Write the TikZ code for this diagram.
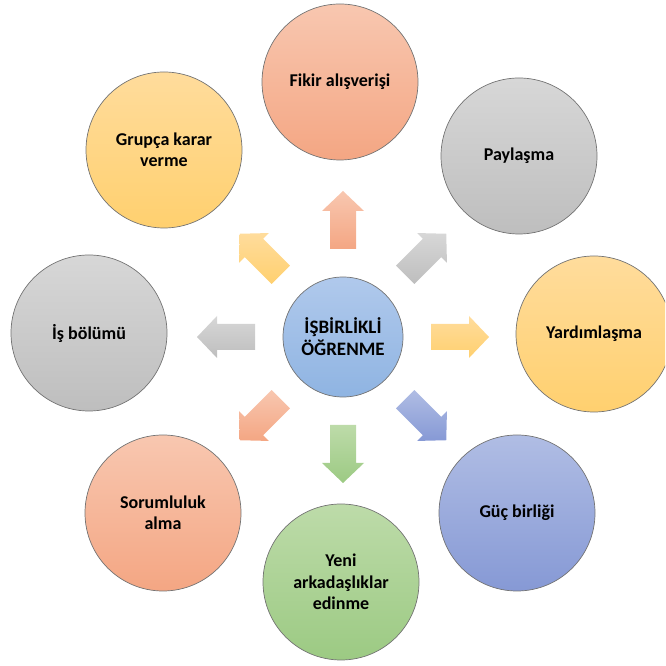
\documentclass[tikz,border=0pt]{standalone}
\usepackage{fontspec}
\setmainfont{Carlito}
\usetikzlibrary{calc}
\definecolor{Tpink}{HTML}{F8C7B0}
\definecolor{Bpink}{HTML}{F4A683}
\definecolor{Tgray}{HTML}{D7D7D7}
\definecolor{Bgray}{HTML}{BEBEBE}
\definecolor{Tyel}{HTML}{FFDC9C}
\definecolor{Byel}{HTML}{FFD06F}
\definecolor{Tblue}{HTML}{B0C9EC}
\definecolor{Bblue}{HTML}{8FB4E2}
\definecolor{Tlav}{HTML}{B0BDE4}
\definecolor{Blav}{HTML}{8699D5}
\definecolor{Tgreen}{HTML}{BDDBA9}
\definecolor{Bgreen}{HTML}{9CCA83}
\begin{document}
\begin{tikzpicture}[x=1pt,y=1pt,
  bubble/.style={circle, minimum size=156pt, inner sep=0pt, draw=black!55, line width=0.7pt,
    align=center, font=\bfseries\fontsize{18}{21.5}\selectfont},
  hub/.style={bubble, minimum size=120pt, font=\bfseries\fontsize{19}{22}\selectfont},
  fillc/.style={top color=T#1, bottom color=B#1}]
\useasboundingbox (0,0) rectangle (665,666);
\clip (0,0) rectangle (665,666);
\node[hub, fillc=blue] (c) at (343,329) {İŞBİRLİKLİ\\ÖĞRENME};
\node[bubble, fillc=pink]  (n)  at (340,584) {Fikir alışverişi};
\node[bubble, fillc=gray]  (ne) at (519,510) {Paylaşma};
\node[bubble, fillc=yel]   (e)  at (594,332) {Yardımlaşma};
\node[bubble, fillc=lav]   (se) at (517,153) {Güç birliği};
\node[bubble, fillc=green] (s)  at (341,84)  {Yeni\\arkadaşlıklar\\edinme};
\node[bubble, fillc=pink]  (sw) at (163,153) {Sorumluluk\\alma};
\node[bubble, fillc=gray]  (w)  at (89,333)  {İş bölümü};
\node[bubble, fillc=yel]   (nw) at (164,516) {Grupça karar\\verme};
\foreach \a/\col in {90/pink, 45/gray, 0/yel, -45/lav, -90/green, -135/pink, 180/gray, 135/yel}{
  \shade[top color=T\col, bottom color=B\col]
    ($(c)+(\a:88)+(\a-90:13)$) -- ($(c)+(\a:126)+(\a-90:13)$) --
    ($(c)+(\a:126)+(\a-90:21)$) -- ($(c)+(\a:146)$) --
    ($(c)+(\a:126)+(\a+90:21)$) -- ($(c)+(\a:126)+(\a+90:13)$) --
    ($(c)+(\a:88)+(\a+90:13)$) -- cycle;
}
\end{tikzpicture}
\end{document}
